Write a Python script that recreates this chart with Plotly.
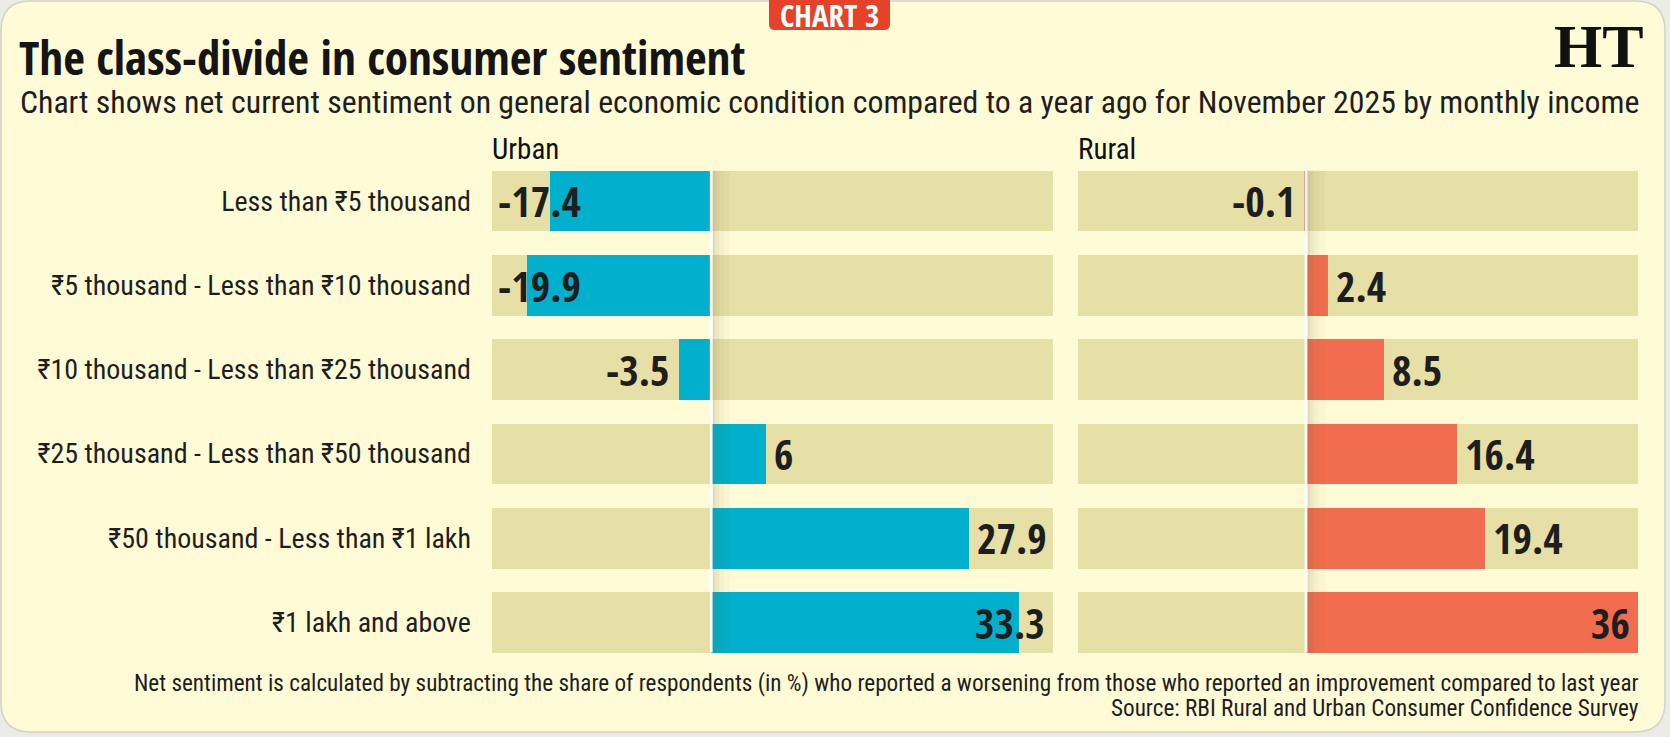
import plotly.graph_objects as go

W, H = 1670, 737

categories = [
    "Less than ₹5 thousand",
    "₹5 thousand - Less than ₹10 thousand",
    "₹10 thousand - Less than ₹25 thousand",
    "₹25 thousand - Less than ₹50 thousand",
    "₹50 thousand - Less than ₹1 lakh",
    "₹1 lakh and above",
]
urban_values = [-17.4, -19.9, -3.5, 6, 27.9, 33.3]
rural_values = [-0.1, 2.4, 8.5, 16.4, 19.4, 36]

urban_range = [-23.7, 37.0]
rural_range = [-24.7, 36.0]

title = "The class-divide in consumer sentiment"
subtitle = "Chart shows net current sentiment on general economic condition compared to a year ago for November 2025 by monthly income"
note = "Net sentiment is calculated by subtracting the share of respondents (in %) who reported a worsening from those who reported an improvement compared to last year"
source = "Source: RBI Rural and Urban Consumer Confidence Survey"

BG = "#FFFBD6"
TRACK = "#E6DFA6"
BLUE = "#00B0CC"
ORANGE = "#F26D4F"
TXT = "#1E1E1E"
COND = "Roboto Condensed"
BOLD = "Open Sans Condensed"


def px(x):
    return x / W


def py(y):
    return 1 - y / H


# vertical geometry (pixels from top)
row_top = 158.55
row_pitch = 84.3
plot_bottom = row_top + row_pitch * len(categories)
bar_frac = 0.718

fig = go.Figure()

panels = [
    ("x", "y", urban_values, urban_range, BLUE),
    ("x2", "y2", rural_values, rural_range, ORANGE),
]
for xa, ya, vals, rng, col in panels:
    span = rng[1] - rng[0]
    fig.add_trace(go.Bar(y=categories, x=[span] * len(categories), base=[rng[0]] * len(categories),
                         orientation="h", marker=dict(color=TRACK, line=dict(width=0)),
                         width=bar_frac, xaxis=xa, yaxis=ya, hoverinfo="skip", showlegend=False))
    fig.add_trace(go.Bar(y=categories, x=vals, orientation="h",
                         marker=dict(color=col, line=dict(width=0)),
                         width=bar_frac, xaxis=xa, yaxis=ya, showlegend=False))
    # value labels
    for cat, v in zip(categories, vals):
        label = f"{v:g}"
        if v < 0:
            if v - rng[0] >= 8:
                ax, anchor, shift = v, "right", -7
            else:
                ax, anchor, shift = rng[0], "left", 4
        else:
            if rng[1] - v >= 8.5:
                ax, anchor, shift = v, "left", 6
            else:
                ax, anchor, shift = rng[1], "right", -6
        fig.add_annotation(x=ax, y=cat, xref=xa, yref=ya, text=label, showarrow=False,
                           xanchor=anchor, yanchor="middle", xshift=shift, yshift=0,
                           font=dict(family=BOLD, size=42, color=TXT, weight="bold"))
    # zero line with fold shadow
    y0, y1 = -bar_frac / 2, len(categories) - 1 + bar_frac / 2
    for a, b, c in [(1.5, 4, "rgba(110,100,60,0.20)"), (4, 8, "rgba(110,100,60,0.12)"),
                    (8, 13, "rgba(110,100,60,0.07)"), (13, 19, "rgba(110,100,60,0.035)")]:
        fig.add_shape(type="rect", xref=xa, yref=ya, xsizemode="pixel", xanchor=0, x0=a, x1=b,
                      y0=y0, y1=y1, fillcolor=c, line=dict(width=0), layer="above")
    fig.add_shape(type="rect", xref=xa, yref=ya, xsizemode="pixel", xanchor=0, x0=-1.2, x1=1.5,
                  y0=y0, y1=y1, fillcolor="#FFFFFF", line=dict(width=0), layer="above")

# separators between rows
for i in range(len(categories) - 1):
    fig.add_shape(type="line", xref="paper", yref="y", x0=px(22), x1=px(1638), y0=i + 0.5, y1=i + 0.5,
                  line=dict(color="#9CB0B6", width=2), layer="below")

ydom = [py(plot_bottom), py(row_top)]
axis_common = dict(showgrid=False, zeroline=False, showticklabels=False, showline=False, ticks="")
fig.update_layout(
    width=W, height=H, margin=dict(l=0, r=0, t=0, b=0),
    paper_bgcolor="#ECECE6", plot_bgcolor="rgba(0,0,0,0)",
    barmode="overlay", bargap=0,
    xaxis=dict(domain=[px(492), px(1053)], range=urban_range, anchor="y", fixedrange=True, **axis_common),
    xaxis2=dict(domain=[px(1078), px(1638)], range=rural_range, anchor="y2", fixedrange=True, **axis_common),
    yaxis=dict(domain=ydom, anchor="x", autorange="reversed", showgrid=False, zeroline=False,
               showline=False, ticks="", ticklabelstandoff=20,
               tickfont=dict(family=COND, size=28, color=TXT)),
    yaxis2=dict(domain=ydom, anchor="x2", matches="y", showticklabels=False, showgrid=False,
                zeroline=False, showline=False, ticks=""),
)

# rounded card background
r = 30
x0c, y0c, x1c, y1c = 1, 1, W - 5, H - 5
path = (f"M {x0c + r},{y0c} L {x1c - r},{y0c} Q {x1c},{y0c} {x1c},{y0c + r} L {x1c},{y1c - r} "
        f"Q {x1c},{y1c} {x1c - r},{y1c} L {x0c + r},{y1c} Q {x0c},{y1c} {x0c},{y1c - r} "
        f"L {x0c},{y0c + r} Q {x0c},{y0c} {x0c + r},{y0c} Z")


def to_paper_path(p):
    out = []
    for tok in p.split(" "):
        if "," in tok:
            a, b = tok.split(",")
            out.append(f"{px(float(a)):.5f},{py(float(b)):.5f}")
        else:
            out.append(tok)
    return " ".join(out)


fig.add_shape(type="path", xref="paper", yref="paper", path=to_paper_path(path),
              fillcolor=BG, line=dict(color="#D2D2C8", width=1.5), layer="below")

# chart badge
fig.add_shape(type="path", xref="paper", yref="paper",
              path=to_paper_path("M 769,-2 L 890,-2 L 890,24 Q 890,30 884,30 L 775,30 Q 769,30 769,24 Z"),
              fillcolor="#E4432A", line=dict(width=0), layer="below")
fig.add_annotation(x=px(829.5), y=py(15), xref="paper", yref="paper", text="CHART 3", showarrow=False,
                   xanchor="center", yanchor="middle",
                   font=dict(family=BOLD, size=31, color="white", weight="bold"))

# HT logo
fig.add_annotation(x=px(1646), y=py(46), xref="paper", yref="paper", text="<b>HT</b>", showarrow=False,
                   xanchor="right", yanchor="middle",
                   font=dict(family="Liberation Serif", size=62, color="#111111"))

# title & subtitle
fig.add_annotation(x=px(17), y=py(57), xref="paper", yref="paper", text=title, showarrow=False,
                   xanchor="left", yanchor="middle",
                   font=dict(family=BOLD, size=47, color="#151515", weight="bold"))
fig.add_annotation(x=px(18), y=py(102), xref="paper", yref="paper", text=subtitle, showarrow=False,
                   xanchor="left", yanchor="middle",
                   font=dict(family=COND, size=31.8, color=TXT))

# panel headers
for xh, t in [(490, "Urban"), (1076, "Rural")]:
    fig.add_annotation(x=px(xh), y=py(149), xref="paper", yref="paper", text=t, showarrow=False,
                       xanchor="left", yanchor="middle",
                       font=dict(family=COND, size=29, color="#111111"))

# footnotes
fig.add_annotation(x=px(1641), y=py(683), xref="paper", yref="paper", text=note, showarrow=False,
                   xanchor="right", yanchor="middle", font=dict(family=COND, size=23.2, color=TXT))
fig.add_annotation(x=px(1641), y=py(708), xref="paper", yref="paper", text=source, showarrow=False,
                   xanchor="right", yanchor="middle", font=dict(family=COND, size=23.2, color=TXT))

fig.write_html("out.html")
